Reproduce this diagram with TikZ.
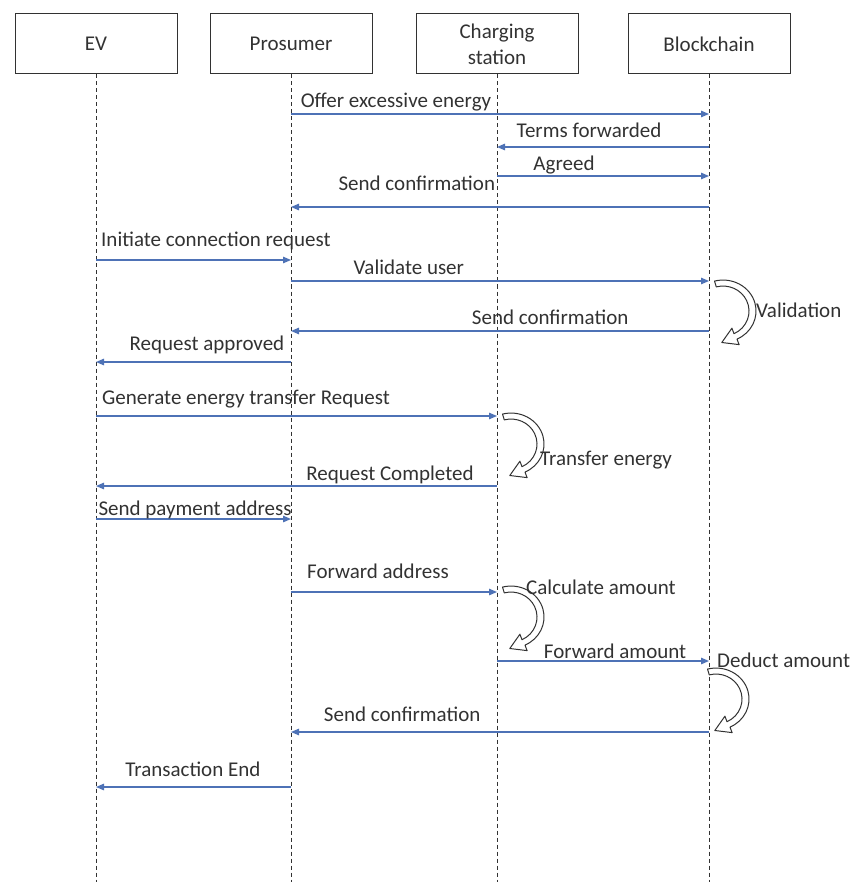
\documentclass[tikz,border=0pt]{standalone}
\usepackage{fontspec}
\setmainfont{Carlito}
\usetikzlibrary{arrows.meta}
\definecolor{msgblue}{RGB}{78,114,182}
\definecolor{inkgray}{RGB}{50,50,50}

\begin{document}
\begin{tikzpicture}[x=1pt, y=-1pt, >={Triangle[length=8pt,width=6.5pt]}]
	\tikzstyle{actor}=[rectangle, draw=inkgray, line width=1pt, minimum width=162pt, minimum height=60pt, align=center, font=\fontsize{21}{26}\selectfont, text=inkgray]
	\tikzstyle{life}=[draw=inkgray, line width=1pt, dash pattern=on 4pt off 3pt]
	\tikzstyle{msg}=[draw=msgblue, line width=1.3pt]
	\tikzstyle{lbl}=[font=\fontsize{21}{26}\selectfont, text=inkgray, inner sep=0pt, text height=14pt, text depth=4pt]
	\tikzstyle{turn}=[draw=inkgray, fill=white, line width=1pt, line join=round]
	
	\useasboundingbox (0,0) rectangle (856,882);
	
	\draw node at (96, 44) [actor] (ev) {EV};
	\draw node at (291, 44) [actor] (pro) {Prosumer};
	\draw node at (497, 44) [actor] (cs) {Charging\\station};
	\draw node at (709, 44) [actor] (bc) {Blockchain};
	
	\draw [life] (ev.south) -- (ev.south |- 0,882);
	\draw [life] (pro.south) -- (pro.south |- 0,882);
	\draw [life] (cs.south) -- (cs.south |- 0,882);
	\draw [life] (bc.south) -- (bc.south |- 0,882);
	
	% offer and agreement
	\draw [msg, ->] (pro |- 0,114) to node[lbl, pos=.251, yshift=11pt]{Offer excessive energy} (bc |- 0,114);
	\draw [msg, ->] (bc |- 0,147) to node[lbl, pos=.566, yshift=14pt]{Terms forwarded} (cs |- 0,147);
	\draw [msg, ->] (cs |- 0,176) to node[lbl, pos=.316, yshift=10pt]{Agreed} (bc |- 0,176);
	\draw [msg, ->] (bc |- 0,207) to node[lbl, pos=.699, yshift=21pt]{Send confirmation} (pro |- 0,207);
	
	% connection
	\draw [msg, ->] (ev |- 0,260) to node[lbl, pos=.615, yshift=18pt]{Initiate connection request} (pro |- 0,260);
	\draw [msg, ->] (pro |- 0,281) to node[lbl, pos=.282, yshift=12pt]{Validate user} (bc |- 0,281);
	\draw [msg, ->] (bc |- 0,331) to node[lbl, pos=.380, yshift=12pt]{Send confirmation} (pro |- 0,331);
	\draw [msg, ->] (pro |- 0,362) to node[lbl, pos=.431, yshift=17pt]{Request approved} (ev |- 0,362);
	
	% energy transfer
	\draw [msg, ->] (ev |- 0,416) to node[lbl, pos=.374, yshift=17pt]{Generate energy transfer Request} (cs |- 0,416);
	\draw [msg, ->] (cs |- 0,486) to node[lbl, pos=.267, yshift=11pt]{Request Completed} (ev |- 0,486);
	
	% payment
	\draw [msg, ->] (ev |- 0,519) to node[lbl, pos=.508, yshift=9pt]{Send payment address} (pro |- 0,519);
	\draw [msg, ->] (pro |- 0,592) to node[lbl, pos=.422, yshift=19pt]{Forward address} (cs |- 0,592);
	\draw [msg, ->] (cs |- 0,661) to node[lbl, pos=.557, yshift=8pt]{Forward amount} (bc |- 0,661);
	\draw [msg, ->] (bc |- 0,732) to node[lbl, pos=.734, yshift=16pt]{Send confirmation} (pro |- 0,732);
	\draw [msg, ->] (pro |- 0,787) to node[lbl, pos=.503, yshift=16pt]{Transaction End} (ev |- 0,787);
	
	% self loops
	\draw [turn, shift={(bc |- 0,280)}] (5.5,1.1) arc[start angle=-105, end angle=65, x radius=33, y radius=31] -- (30.1,64.6) -- (12.8,62.5) -- (22.9,48.2) -- (25.0,53.7) arc[start angle=65, end angle=-105, x radius=26, y radius=25] -- cycle;
	\draw node at (756, 312) [lbl, anchor=west] (val) {Validation};
	
	\draw [turn, shift={(cs |- 0,413)}] (5.5,1.1) arc[start angle=-105, end angle=65, x radius=33, y radius=31] -- (30.1,64.6) -- (12.8,62.5) -- (22.9,48.2) -- (25.0,53.7) arc[start angle=65, end angle=-105, x radius=26, y radius=25] -- cycle;
	\draw node at (540, 460) [lbl, anchor=west] (te) {Transfer energy};
	
	\draw [turn, shift={(cs |- 0,586)}] (5.5,1.1) arc[start angle=-105, end angle=65, x radius=33, y radius=31] -- (30.1,64.6) -- (12.8,62.5) -- (22.9,48.2) -- (25.0,53.7) arc[start angle=65, end angle=-105, x radius=26, y radius=25] -- cycle;
	\draw node at (526, 589) [lbl, anchor=west] (ca) {Calculate amount};
	
	\draw [turn, shift={(702,668)}] (5.5,1.1) arc[start angle=-105, end angle=65, x radius=33, y radius=31] -- (30.1,64.6) -- (12.8,62.5) -- (22.9,48.2) -- (25.0,53.7) arc[start angle=65, end angle=-105, x radius=26, y radius=25] -- cycle;
	\draw node at (717, 662) [lbl, anchor=west] (da) {Deduct amount};
\end{tikzpicture}
\end{document}
